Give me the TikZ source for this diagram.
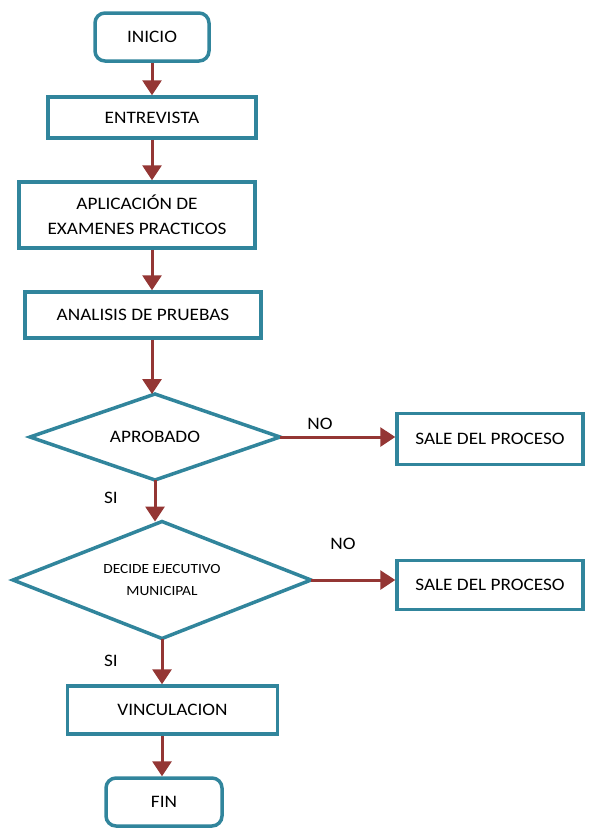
\documentclass[tikz,border=0pt]{standalone}
\usepackage{fontspec}
\setmainfont[FakeStretch=1.1]{Carlito}
\usetikzlibrary{arrows.meta,calc}
\definecolor{teal}{HTML}{31859C}
\definecolor{arrowred}{HTML}{943634}
\tikzset{
  x=1pt,y=-1pt,
  box/.style={draw=teal,line width=3.5pt,fill=white,inner sep=0pt,align=center,
    font=\fontsize{17.5}{25}\selectfont},
  rbox/.style={box,rounded corners=10pt},
  decision/.style={inner sep=0pt,outer sep=0pt,align=center,
    font=\fontsize{17.5}{25}\selectfont},
  dshape/.style={draw=teal,line width=3.5pt,fill=white,line join=miter},
  flow/.style={draw=arrowred,line width=3pt,-{Triangle[width=19pt,length=15pt]}},
  lbl/.style={font=\fontsize{17.5}{20}\selectfont,inner sep=0pt}
}
\begin{document}
\begin{tikzpicture}
\useasboundingbox (0,0) rectangle (589,828);
\node[rbox,minimum width=114pt,minimum height=48pt] (inicio) at (152,37) {INICIO};
\node[box,minimum width=208pt,minimum height=41pt] (entrevista) at (152,117.5) {ENTREVISTA};
\node[box,minimum width=236pt,minimum height=66pt] (aplicacion) at (137,215) {APLICACIÓN DE\\EXAMENES PRACTICOS};
\node[box,minimum width=236pt,minimum height=46pt] (analisis) at (143,315) {ANALISIS DE PRUEBAS};
\node[decision,minimum width=250pt,minimum height=86pt] (aprobado) at (155,437) {};
\draw[dshape] (aprobado.north) -- (aprobado.east) -- (aprobado.south) -- (aprobado.west) -- cycle;
\node[decision] (aprobadotxt) at (aprobado.center) {APROBADO};
\node[box,minimum width=186pt,minimum height=51pt] (sale1) at (490,439) {SALE DEL PROCESO};
\node[decision,minimum width=298pt,minimum height=117pt] (decide) at (162,580) {};
\draw[dshape] (decide.north) -- (decide.east) -- (decide.south) -- (decide.west) -- cycle;
\node[decision,font=\fontsize{14}{22}\selectfont] (decidetxt) at (decide.center) {DECIDE EJECUTIVO\\MUNICIPAL};
\node[box,minimum width=186pt,minimum height=49pt] (sale2) at (490,585) {SALE DEL PROCESO};
\node[box,minimum width=210pt,minimum height=48pt] (vinculacion) at (172.5,710) {VINCULACION};
\node[rbox,minimum width=116pt,minimum height=48pt] (fin) at (164,802) {FIN};
\node[lbl] (no1) at (320,424) {NO};
\node[lbl] (si1) at (111,498) {SI};
\node[lbl] (no2) at (343,544) {NO};
\node[lbl] (si2) at (111,661) {SI};
\draw[flow] (inicio.south) -- (entrevista.north);
\draw[flow] (entrevista.south) -- (entrevista.south |- aplicacion.north);
\draw[flow] (entrevista.south |- aplicacion.south) -- (entrevista.south |- analisis.north);
\draw[flow] (entrevista.south |- analisis.south) -- (entrevista.south |- aprobado.north);
\draw[flow] (aprobado.east) -- (aprobado.east -| sale1.west);
\draw[flow] (aprobado.south) -- (aprobado.south |- decide.north);
\draw[flow] (decide.east) -- (decide.east -| sale2.west);
\draw[flow] (decide.south) -- (decide.south |- vinculacion.north);
\draw[flow] (decide.south |- vinculacion.south) -- (decide.south |- fin.north);
\end{tikzpicture}
\end{document}
